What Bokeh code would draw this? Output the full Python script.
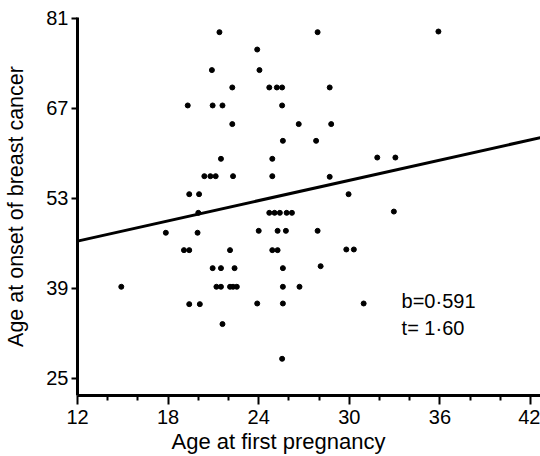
from bokeh.plotting import figure
from bokeh.models import FixedTicker, Range1d, Title
from bokeh.core.properties import value
from bokeh.embed import file_html
from bokeh.resources import INLINE

# ---- data ----
age_first_pregnancy = [
    21.4, 23.9, 20.9, 24.05, 22.25, 24.7, 25.2, 25.55, 19.3, 20.95, 21.6, 25.55, 22.25,
    27.9, 35.9, 28.7, 26.65, 28.8,
    25.6, 27.8, 21.5, 24.9, 31.85, 33.05, 20.4, 20.8, 21.15, 22.3, 24.9, 28.7,
    19.4, 20.05, 29.95, 20.0, 24.7, 25.05, 25.4, 25.85, 26.2, 32.95,
    17.85, 19.95, 24.0, 25.25, 25.8, 27.9,
    19.05, 19.4, 22.1, 24.9, 25.25, 29.8, 30.3, 20.95, 21.5, 22.4, 25.6, 28.1,
    14.9, 21.2, 21.5, 22.1, 22.3, 22.55, 25.6, 26.7,
    19.4, 20.1, 23.9, 25.6, 30.95, 21.6, 25.55,
]
age_onset = [
    78.8, 76.1, 72.9, 72.9, 70.2, 70.2, 70.2, 70.2, 67.4, 67.4, 67.4, 67.4, 64.5,
    78.8, 78.9, 70.2, 64.5, 64.5,
    61.9, 61.9, 59.1, 59.1, 59.3, 59.3, 56.4, 56.4, 56.4, 56.4, 56.4, 56.3,
    53.6, 53.6, 53.6, 50.7, 50.7, 50.7, 50.7, 50.7, 50.7, 50.9,
    47.6, 47.6, 47.9, 47.9, 47.9, 47.9,
    44.9, 44.9, 44.9, 44.9, 44.9, 45.0, 45.0, 42.1, 42.1, 42.1, 42.1, 42.4,
    39.2, 39.2, 39.2, 39.2, 39.2, 39.2, 39.2, 39.2,
    36.5, 36.5, 36.6, 36.6, 36.6, 33.4, 28.0,
]
fit_x = [12.0, 42.66]
fit_y = [46.3, 62.4]

x_ticks = [12, 18, 24, 30, 36, 42]
x_minor_ticks = [14, 16, 20, 22, 26, 28, 32, 34, 38, 40]
y_ticks = [25, 39, 53, 67, 81]

stats_text = ["b=0\u00b7591", "t= 1\u00b760"]
x_title = "Age  at first pregnancy"
y_title = "Age at onset of breast cancer"

FONT = "Liberation Sans"

p = figure(
    width=540, height=456,
    x_range=Range1d(12, 42.66), y_range=Range1d(22.29, 81.08),
    output_backend="svg", toolbar_location=None,
    min_border_left=77, min_border_right=0, min_border_top=17, min_border_bottom=61,
)
p.outline_line_color = None
p.xgrid.grid_line_color = None
p.ygrid.grid_line_color = None
p.background_fill_color = "white"
p.border_fill_color = "white"

p.line(fit_x, fit_y, line_width=3, color="black")
p.scatter(age_first_pregnancy, age_onset, size=5, color="black")

p.text(x=[33.46, 33.46], y=[37.0, 32.8], text=stats_text,
       text_font=value(FONT), text_font_size="20px", text_baseline="middle",
       text_align="left", text_color="black")

# x-axis title as a below-panel title, starting left of centre as in the reference
p.add_layout(Title(text=x_title, align="left", offset=94, standoff=0,
                   text_font=FONT, text_font_size="22px", text_font_style="normal",
                   text_color="black"), "below")

xa = p.xaxis[0]
xa.ticker = FixedTicker(ticks=x_ticks, minor_ticks=x_minor_ticks)
ya = p.yaxis[0]
ya.ticker = FixedTicker(ticks=y_ticks, minor_ticks=[])
ya.axis_label = y_title

for ax in (xa, ya):
    ax.axis_line_width = 3
    ax.axis_line_color = "black"
    ax.major_tick_line_width = 2
    ax.minor_tick_line_width = 2
    ax.major_tick_line_color = "black"
    ax.minor_tick_line_color = "black"
    ax.major_tick_in = 0
    ax.minor_tick_in = 0
    ax.major_label_text_font = FONT
    ax.major_label_text_font_size = "20px"
    ax.major_label_text_color = "black"
    ax.axis_label_text_font = FONT
    ax.axis_label_text_font_style = "normal"
    ax.axis_label_text_color = "black"

ya.axis_label_text_font_size = "21.5px"
xa.major_tick_out = 9
xa.minor_tick_out = 5
xa.major_label_standoff = 5
ya.major_tick_out = 6
ya.minor_tick_line_color = None
ya.major_label_standoff = 3
ya.axis_label_standoff = 15

open("out.html", "w").write(file_html(p, INLINE))
